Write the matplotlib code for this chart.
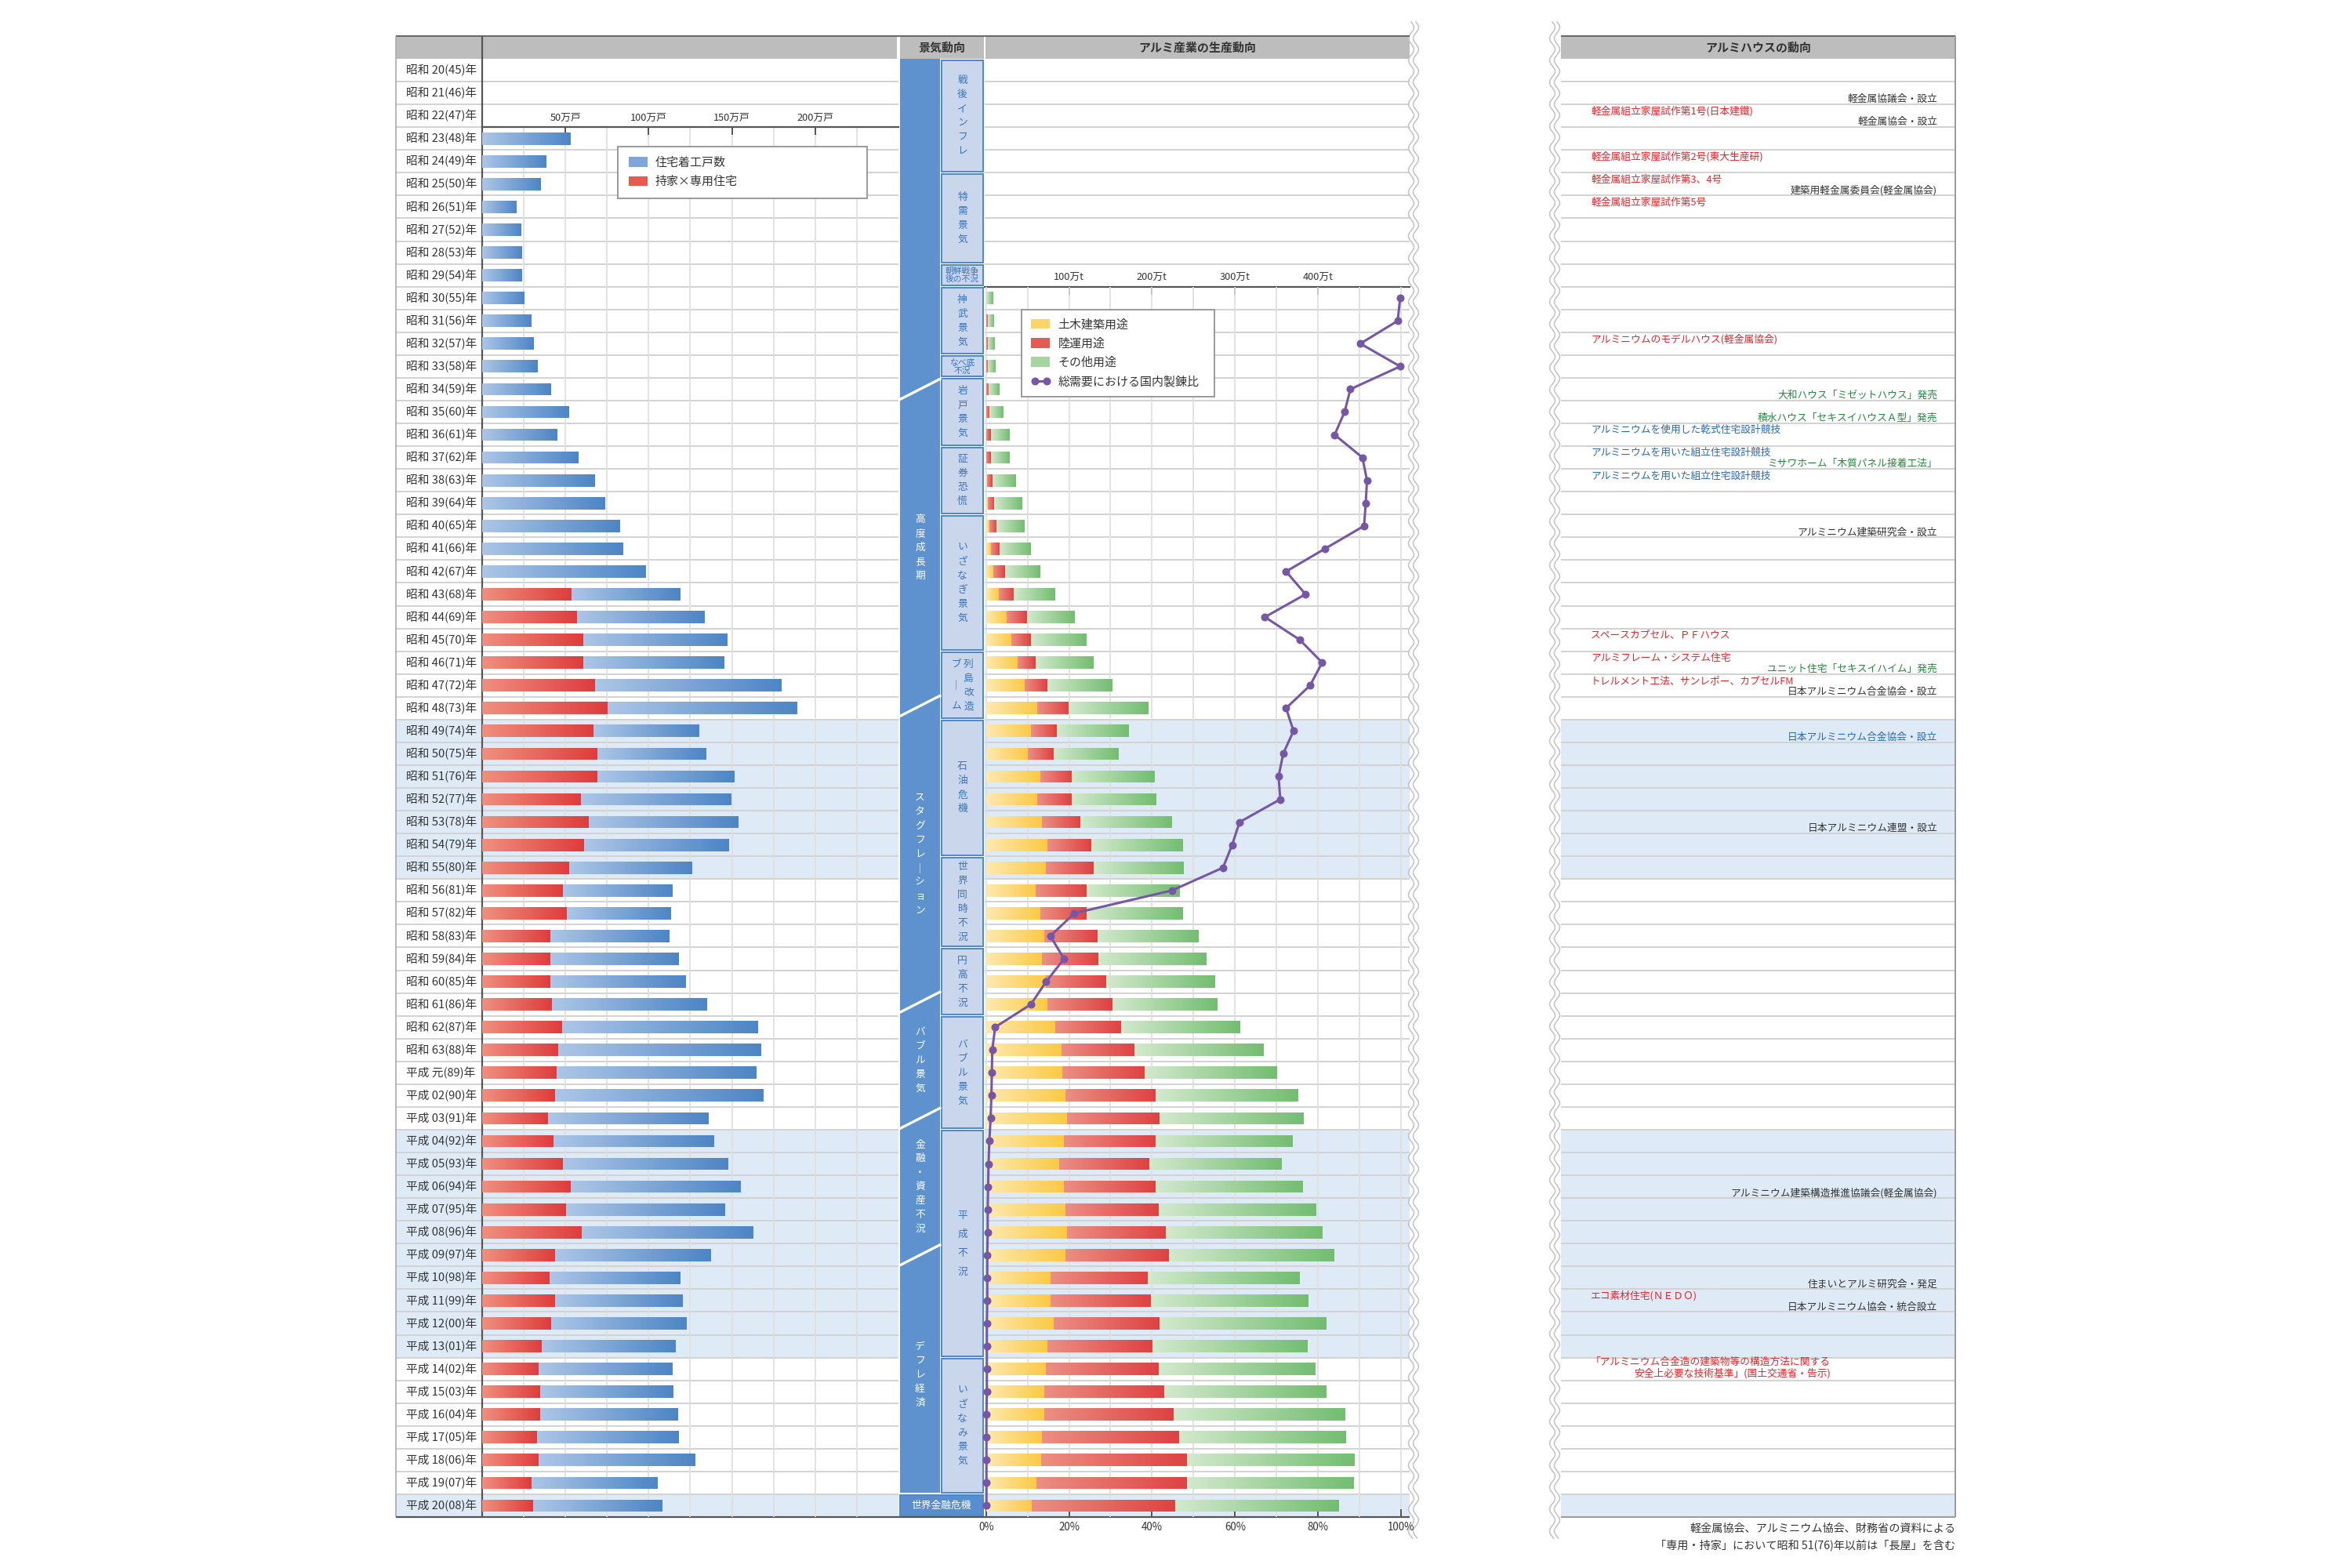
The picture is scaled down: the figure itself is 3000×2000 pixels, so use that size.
"""Aluminium house timeline 1945-2008: housing starts, business cycle, aluminium demand."""

import numpy as np
import matplotlib
matplotlib.use("Agg")
import matplotlib.pyplot as plt
from matplotlib.colors import LinearSegmentedColormap
from matplotlib.lines import Line2D
from matplotlib.patches import Patch, Rectangle

plt.rcParams["font.family"] = ["Noto Sans CJK JP", "DejaVu Sans"]

# ---- data ---------------------------------------------------------------
SHOWA = list(range(20, 64))
HEISEI = list(range(1, 21))
ROW_LABELS = ([f"昭和 {n}({(1925 + n) % 100:02d})年" for n in SHOWA]
              + [f"平成 {'元' if n == 1 else f'{n:02d}'}({(1988 + n) % 100:02d})年" for n in HEISEI])

# housing starts (万戸), first value is 昭和23
HOUSING_START_ROW = 3
HOUSING_TOTAL = [53.0, 38.5, 35.0, 20.5, 23.5, 24.0, 24.0,
                 25.0, 29.5, 31.0, 33.0, 41.0, 52.0, 45.0, 57.5, 67.4, 73.7,
                 82.7, 84.7, 98.3, 118.9, 133.4, 147.1, 145.2, 179.2, 189.1, 130.5,
                 134.5, 151.3, 149.6, 153.6, 148.1, 125.8, 114.1, 113.3, 112.4, 117.8,
                 122.0, 135.0, 165.6, 167.4, 164.7, 169.0, 136.0, 139.5, 147.6, 154.8,
                 145.8, 162.9, 137.6, 118.7, 120.5, 122.3, 116.0, 114.2, 115.0, 117.8,
                 117.8, 127.7, 105.2, 108.0]
# 持家×専用住宅 (万戸), first value is 昭和43
OWNER_START_ROW = 23
HOUSING_OWNER = [53.8, 57.1, 60.7, 60.7, 67.6, 75.2, 67.0,
                 69.3, 69.3, 59.2, 64.1, 61.1, 52.3, 48.5, 51.0, 41.0, 41.0,
                 41.0, 42.0, 48.0, 45.7, 44.8, 44.0, 39.5, 43.0, 48.5, 53.0,
                 50.3, 60.0, 44.0, 40.4, 44.0, 41.3, 35.9, 34.0, 35.0, 35.0,
                 33.0, 34.0, 29.5, 30.4]

# aluminium demand shares (%), first value is 昭和30
ALU_START_ROW = 10
ALU_CIVIL = [0, 0, 0, 0, 0, 0, 0, 0, 0.2, 0.4,
             0.8, 1.1, 1.8, 3.0, 5.0, 6.1, 7.6, 9.4, 12.3, 10.8,
             10.1, 13.0, 12.3, 13.4, 14.8, 14.5, 11.9, 13.0, 14.1, 13.4,
             14.5, 14.8, 16.6, 18.1, 18.4, 19.2, 19.5, 18.8, 17.7, 18.8,
             19.2, 19.5, 19.2, 15.5, 15.5, 16.3, 14.8, 14.5, 14.1, 14.1,
             13.4, 13.3, 12.2, 11.0]
ALU_TRANSPORT = [0, 0.4, 0.4, 0.5, 0.6, 0.9, 1.1, 1.1, 1.3, 1.6,
                 1.8, 2.2, 2.7, 3.6, 4.8, 4.7, 4.3, 5.4, 7.6, 6.2,
                 6.2, 7.6, 8.3, 9.4, 10.5, 11.5, 12.3, 11.3, 12.7, 13.7,
                 14.4, 15.6, 15.9, 17.7, 19.9, 21.7, 22.4, 22.1, 21.7, 22.1,
                 22.4, 23.9, 24.9, 23.5, 24.3, 25.6, 25.3, 27.1, 28.9, 31.1,
                 33.2, 35.1, 36.2, 34.5]
ALU_OTHER = [1.7, 1.4, 1.6, 1.8, 2.5, 3.3, 4.4, 4.5, 5.6, 6.7,
             6.8, 7.5, 8.5, 10.0, 11.5, 13.4, 13.8, 15.6, 19.1, 17.3,
             15.5, 19.9, 20.3, 22.0, 22.1, 21.7, 22.4, 23.1, 24.2, 26.0,
             26.1, 25.3, 28.6, 31.1, 31.8, 34.3, 34.7, 32.9, 31.8, 35.4,
             37.9, 37.6, 39.8, 36.6, 37.9, 40.2, 37.3, 37.6, 39.1, 41.2,
             40.2, 40.4, 40.2, 39.4]
# 総需要における国内製錬比 (%)
ALU_SMELT = [99.8, 99.2, 90.2, 99.8, 87.8, 86.4, 84.0, 90.7, 91.8, 91.5,
             91.1, 81.7, 72.3, 77.0, 67.2, 75.6, 81.0, 78.1, 72.3, 74.1,
             71.6, 70.5, 70.9, 61.1, 59.3, 57.1, 44.8, 21.3, 15.5, 18.8,
             14.5, 10.8, 2.2, 1.5, 1.4, 1.3, 1.1, 0.8, 0.6, 0.5,
             0.4, 0.4, 0.3, 0.3, 0.3, 0.2, 0.2, 0.2, 0.2, 0.1,
             0.1, 0.1, 0.1, 0.1]

HOUSING_TICKS = [50, 100, 150, 200]
HOUSING_GRID = [25, 75, 125, 175, 225]
PCT_TICKS = [0, 20, 40, 60, 80, 100]
PCT_GRID = [10, 30, 50, 70, 90]
TON_TICKS = [100, 200, 300, 400]

SHADE_ROWS = [(29, 35), (47, 56), (63, 63)]

KEIKI_OUTER = [("", 0, 14.5), ("高度成長期", 14.5, 28.4), ("スタグフレーション", 28.4, 41.4),
               ("バブル景気", 41.4, 46.5), ("金融・資産不況", 46.5, 52.5), ("デフレ経済", 52.5, 63)]
KEIKI_INNER = [("戦後インフレ", 0, 4), ("特需景気", 5, 8), ("朝鮮戦争\n後の不況", 9, 9),
               ("神武景気", 10, 12), ("なべ底\n不況", 13, 13), ("岩戸景気", 14, 16),
               ("証券恐慌", 17, 19), ("いざなぎ景気", 20, 25), ("列島改造|ブーム", 26, 28),
               ("石油危機", 29, 34), ("世界同時不況", 35, 38), ("円高不況", 39, 41),
               ("バブル景気", 42, 46), ("平成不況", 47, 56), ("いざなみ景気", 57, 62)]
CRISIS_LABEL, CRISIS_ROW = "世界金融危機", 63

HOUSE_EVENTS = [
    (1, "right", "black", "軽金属協議会・設立"),
    (2, "left", "red", "軽金属組立家屋試作第1号(日本建鐵)"),
    (2, "right", "black", "軽金属協会・設立"),
    (4, "left", "red", "軽金属組立家屋試作第2号(東大生産研)"),
    (5, "left", "red", "軽金属組立家屋試作第3、4号"),
    (5, "right", "black", "建築用軽金属委員会(軽金属協会)"),
    (6, "left", "red", "軽金属組立家屋試作第5号"),
    (12, "left", "red", "アルミニウムのモデルハウス(軽金属協会)"),
    (14, "right", "green", "大和ハウス「ミゼットハウス」発売"),
    (15, "right", "green", "積水ハウス「セキスイハウスＡ型」発売"),
    (16, "left", "blue", "アルミニウムを使用した乾式住宅設計競技"),
    (17, "left", "blue", "アルミニウムを用いた組立住宅設計競技"),
    (17, "right", "green", "ミサワホーム「木質パネル接着工法」"),
    (18, "left", "blue", "アルミニウムを用いた組立住宅設計競技"),
    (20, "right", "black", "アルミニウム建築研究会・設立"),
    (25, "left", "red", "スペースカプセル、ＰＦハウス"),
    (26, "left", "red", "アルミフレーム・システム住宅"),
    (26, "right", "green", "ユニット住宅「セキスイハイム」発売"),
    (27, "left", "red", "トレルメント工法、サンレポー、カプセルFM"),
    (27, "right", "black", "日本アルミニウム合金協会・設立"),
    (29, "right", "blue", "日本アルミニウム合金協会・設立"),
    (33, "right", "black", "日本アルミニウム連盟・設立"),
    (49, "right", "black", "アルミニウム建築構造推進協議会(軽金属協会)"),
    (53, "right", "black", "住まいとアルミ研究会・発足"),
    (54, "left", "red", "エコ素材住宅(ＮＥＤＯ)"),
    (54, "right", "black", "日本アルミニウム協会・統合設立"),
    (57, "left", "red", "「アルミニウム合金造の建築物等の構造方法に関する\n安全上必要な技術基準」(国土交通省・告示)"),
]
EVENT_COLORS = {"red": "#e4262b", "blue": "#2a69b4", "green": "#1f8a3c", "black": "#333333"}

NOTES = ["軽金属協会、アルミニウム協会、財務省の資料による",
         "「専用・持家」において昭和 51(76)年以前は「長屋」を含む"]

# ---- layout (pixels of the 3000x2000 canvas) ----------------------------
W, H, DPI = 3000, 2000, 200
HEAD_TOP, ROW_TOP, ROW_BOT = 46, 75, 1935
N_ROWS = len(ROW_LABELS)
ROW_H = (ROW_BOT - ROW_TOP) / N_ROWS
LAB = (505, 615)
HOUS = (615, 1146)
KEIKI = (1148, 1255)
ALU = (1256, 1798)
RIGHT = (1991, 2494)
BAR_H = 0.54

SHADE = "#deebf7"
ROWLINE = "#d2d2d2"
HEAD_GRAY = "#bdbdbd"
TXT = "#333333"
OUTER_BLUE = "#5e92ce"
INNER_FILL = "#c9d6ec"
INNER_EDGE = "#4f88c9"
INNER_TXT = "#3a74bb"
GRAD = np.linspace(0, 1, 256)[None, :]


def ry(r):
    return ROW_TOP + r * ROW_H


def fig_rect(x0, y0, x1, y1):
    return [x0 / W, 1 - y1 / H, (x1 - x0) / W, (y1 - y0) / H]


def grad_bar(ax, y, left, width, c0, c1):
    bar = ax.barh(y, width, left=left, height=BAR_H, color=c1, linewidth=0, zorder=3)[0]
    cmap = LinearSegmentedColormap.from_list("g", [c0, c1])
    im = ax.imshow(GRAD, cmap=cmap, aspect="auto", interpolation="bilinear",
                   extent=(left, left + width, y + BAR_H / 2, y - BAR_H / 2), zorder=3.1)
    im.set_clip_path(bar)


def vtext(ax, x, yc, s, step, **kw):
    n = len(s)
    for i, ch in enumerate(s):
        ch = "｜" if ch == "ー" else ch
        ax.text(x, yc + (i - (n - 1) / 2) * step, ch, ha="center", va="center", **kw)


fig = plt.figure(figsize=(W / DPI, H / DPI), dpi=DPI)
bg = fig.add_axes([0, 0, 1, 1], zorder=0)
bg.set_xlim(0, W)
bg.set_ylim(H, 0)
bg.axis("off")

# shaded periods
for a, b in SHADE_ROWS:
    for x0, x1 in (LAB, HOUS, ALU, RIGHT):
        bg.add_patch(Rectangle((x0, ry(a)), x1 - x0, ry(b + 1) - ry(a),
                               fc=SHADE, ec="none", zorder=0.5))

# row separators
row_edges = [ry(r) for r in range(1, N_ROWS)]
for x0, x1 in (LAB, HOUS, ALU, RIGHT):
    bg.hlines(row_edges, x0, x1, color=ROWLINE, lw=0.7, zorder=1)

# headers
for x0, x1, title in ((LAB[0], LAB[1] - 1, ""), (HOUS[0] + 1, HOUS[1] - 2, ""),
                      (KEIKI[0], KEIKI[1], "景気動向"), (ALU[0] + 1, ALU[1], "アルミ産業の生産動向"),
                      (RIGHT[0], RIGHT[1], "アルミハウスの動向")):
    bg.add_patch(Rectangle((x0, HEAD_TOP), x1 - x0, ROW_TOP - HEAD_TOP, fc=HEAD_GRAY, ec="none", zorder=2))
    if title:
        bg.text((x0 + x1) / 2, (HEAD_TOP + ROW_TOP) / 2, title, ha="center", va="center",
                fontsize=5.4, fontweight="bold", color=TXT, zorder=3)
bg.hlines(HEAD_TOP, LAB[0], ALU[1], color="#666666", lw=0.7, zorder=3)
bg.hlines(HEAD_TOP, RIGHT[0], RIGHT[1], color="#666666", lw=0.7, zorder=3)

# frame lines
bg.vlines(LAB[0], HEAD_TOP, ROW_BOT, color="#aaaaaa", lw=0.6, zorder=3)
bg.vlines(LAB[1], HEAD_TOP, ROW_BOT, color="#555555", lw=0.8, zorder=3)
bg.hlines(ROW_BOT, LAB[0], ALU[1], color="#555555", lw=0.8, zorder=3)
bg.vlines(RIGHT[1], HEAD_TOP, ROW_BOT, color="#999999", lw=0.7, zorder=3)
bg.hlines(ROW_BOT, RIGHT[0], RIGHT[1], color="#999999", lw=0.7, zorder=3)

# row labels
for i, lab in enumerate(ROW_LABELS):
    bg.text(LAB[0] + 13, ry(i + 0.5), lab, ha="left", va="center", fontsize=5.3, color=TXT, zorder=3)

# business-cycle column
ox0, ox1 = KEIKI[0], KEIKI[0] + 51
ix0, ix1 = ox1 + 2, KEIKI[1] - 1
bg.add_patch(Rectangle((ox0, ROW_TOP), ox1 - ox0, ry(CRISIS_ROW) - 1.5 - ROW_TOP,
                       fc=OUTER_BLUE, ec="none", zorder=2))
for label, a, b in KEIKI_OUTER:
    if a > 0:
        yc = ry(a)
        bg.plot([ox0, ox1], [yc + 13, yc - 13], color="white", lw=1.2, zorder=3)
    if label:
        vtext(bg, (ox0 + ox1) / 2, ry((a + b) / 2), label, 18, fontsize=4.6, color="white", zorder=4)
for label, a, b in KEIKI_INNER:
    y0, y1 = ry(a) + 1.5, ry(b + 1) - 1.5
    bg.add_patch(Rectangle((ix0, y0), ix1 - ix0, y1 - y0, fc=INNER_FILL, ec=INNER_EDGE, lw=0.7, zorder=2))
    xc, yc = (ix0 + ix1) / 2, (y0 + y1) / 2
    if "\n" in label:
        bg.text(xc, yc, label, ha="center", va="center", fontsize=3.9, linespacing=0.95,
                color=INNER_TXT, zorder=4)
    elif "|" in label:
        right_col, left_col = label.split("|")
        vtext(bg, xc + 8, yc, right_col, 18, fontsize=4.6, color=INNER_TXT, zorder=4)
        vtext(bg, xc - 8, yc, left_col, 27, fontsize=4.6, color=INNER_TXT, zorder=4)
    else:
        step = 24 if b - a >= 9 else 18
        vtext(bg, xc, yc, label, step, fontsize=4.6, color=INNER_TXT, zorder=4)
y0, y1 = ry(CRISIS_ROW) + 1.5, ROW_BOT - 1
bg.add_patch(Rectangle((ox0, y0), ix1 - ox0, y1 - y0, fc="#5a8dcd", ec=INNER_EDGE, lw=0.7, zorder=2))
bg.text((ox0 + ix1) / 2, (y0 + y1) / 2, CRISIS_LABEL, ha="center", va="center",
        fontsize=4.6, color="white", zorder=4)

# wavy break lines
wy = np.linspace(28, 1962, 900)
for x0 in (1800, 1806, 1980, 1986):
    bg.plot(x0 + 3.5 * np.sin(2 * np.pi * wy / 28), wy, color="#c6c6c6", lw=0.6, zorder=2)

# aluminium-house events
for row, side, col, text in HOUSE_EVENTS:
    if side == "left":
        bg.text(RIGHT[0] + 38, ry(row + (0.45 if "\n" in text else 0.3)), text, ha="left", va="center",
                fontsize=4.6, color=EVENT_COLORS[col], linespacing=1.15, multialignment="right", zorder=3)
    else:
        bg.text(RIGHT[1] - 23, ry(row + 0.78), text, ha="right", va="center",
                fontsize=4.6, color=EVENT_COLORS[col], zorder=3)

for k, note in enumerate(NOTES):
    bg.text(RIGHT[1], 1950 + 22 * k, note, ha="right", va="center", fontsize=5.1, color=TXT)

# ---- housing starts -----------------------------------------------------
ax_h = fig.add_axes(fig_rect(HOUS[0], ry(HOUSING_START_ROW), HOUS[1], ROW_BOT), zorder=2)
ax_h.set_facecolor("none")
h_xmax = (HOUS[1] - 614.7) / 2.125
for k, total in enumerate(HOUSING_TOTAL):
    row = HOUSING_START_ROW + k
    j = row - OWNER_START_ROW
    owner = HOUSING_OWNER[j] if 0 <= j < len(HOUSING_OWNER) else 0
    if owner:
        grad_bar(ax_h, row + 0.5, 0, owner, "#f0907f", "#de3c3c")
    grad_bar(ax_h, row + 0.5, owner, total - owner, "#adc6e7", "#4d85c5")
ax_h.set_xlim(0, h_xmax)
ax_h.set_ylim(N_ROWS, HOUSING_START_ROW)
ax_h.set_aspect("auto")
ax_h.set_yticks([])
ax_h.xaxis.tick_top()
ax_h.set_xticks(HOUSING_TICKS, labels=[f"{v}万戸" for v in HOUSING_TICKS])
ax_h.set_xticks(HOUSING_GRID, minor=True)
ax_h.tick_params(axis="x", which="major", direction="in", length=3.5, width=0.7, color="#555555",
                 labelsize=4.6, labelcolor=TXT, pad=1.8)
ax_h.tick_params(axis="x", which="minor", length=0)
ax_h.grid(axis="x", which="both", color="#dedede", lw=0.6)
ax_h.set_axisbelow(True)
for side in ("left", "right", "bottom"):
    ax_h.spines[side].set_visible(False)
ax_h.spines["top"].set_color("#555555")
ax_h.spines["top"].set_linewidth(0.8)

ax_h.legend(handles=[Patch(fc="#7fa6d8", ec="none"), Patch(fc="#e65a52", ec="none")],
            labels=["住宅着工戸数", "持家×専用住宅"], loc="upper left", mode="expand",
            bbox_to_anchor=fig_rect(788, 187, 1106, 256), bbox_transform=fig.transFigure,
            fontsize=5.4, frameon=True, fancybox=False, edgecolor="#9a9a9a", framealpha=1,
            borderpad=0.9, labelspacing=0.65, handlelength=1.6, handleheight=0.9,
            handletextpad=0.7, borderaxespad=0, labelcolor=TXT).get_frame().set_linewidth(0.7)

# ---- aluminium demand ---------------------------------------------------
ax_a = fig.add_axes(fig_rect(ALU[0], ry(ALU_START_ROW), ALU[1], ROW_BOT), zorder=2)
ax_a.set_facecolor("none")
for k in range(len(ALU_OTHER)):
    y = ALU_START_ROW + k + 0.5
    c, t, o = ALU_CIVIL[k], ALU_TRANSPORT[k], ALU_OTHER[k]
    if c:
        grad_bar(ax_a, y, 0, c, "#fee9b0", "#fbc943")
    if t:
        grad_bar(ax_a, y, c, t, "#ec8f84", "#de4242")
    grad_bar(ax_a, y, c + t, o, "#d3e9cd", "#73bd71")
smelt_rows = [ALU_START_ROW + k + 0.5 for k in range(len(ALU_SMELT))]
ax_a.plot(ALU_SMELT, smelt_rows, color="#7657a6", lw=1.1, marker="o", ms=2.6, zorder=6, clip_on=False)
ax_a.set_xlim((ALU[0] - 1257.7) / 5.293, (ALU[1] - 1257.7) / 5.293)
ax_a.set_ylim(N_ROWS, ALU_START_ROW)
ax_a.set_aspect("auto")
ax_a.set_yticks([])
ax_a.set_xticks(PCT_TICKS, labels=[f"{p}%" for p in PCT_TICKS])
ax_a.set_xticks(PCT_GRID, minor=True)
ax_a.tick_params(axis="x", which="major", direction="in", length=3.5, width=0.7, color="#555555",
                 labelsize=4.8, labelcolor=TXT, pad=2)
ax_a.tick_params(axis="x", which="minor", length=0)
ax_a.grid(axis="x", which="both", color="#dedede", lw=0.6)
ax_a.set_axisbelow(True)
for side in ("left", "right", "bottom", "top"):
    ax_a.spines[side].set_visible(False)
sec = ax_a.secondary_xaxis("top", functions=(lambda p: p * 5, lambda t: t / 5))
sec.set_xticks(TON_TICKS, labels=[f"{t}万t" for t in TON_TICKS])
sec.tick_params(axis="x", direction="in", length=3.5, width=0.7, color="#555555",
                labelsize=4.6, labelcolor=TXT, pad=1.8)
sec.spines["top"].set_color("#555555")
sec.spines["top"].set_linewidth(0.8)

ax_a.legend(handles=[Patch(fc="#fcd56a", ec="none"), Patch(fc="#e45b52", ec="none"),
                     Patch(fc="#a6d59f", ec="none"),
                     Line2D([0], [0], color="#7657a6", lw=1.1, marker="o", ms=2.6, markevery=[0])],
            labels=["土木建築用途", "陸運用途", "その他用途", "総需要における国内製錬比"],
            loc="upper left", mode="expand", numpoints=2,
            bbox_to_anchor=fig_rect(1303, 395, 1549, 514), bbox_transform=fig.transFigure,
            fontsize=5.4, frameon=True, fancybox=False, edgecolor="#9a9a9a", framealpha=1,
            borderpad=0.8, labelspacing=0.65, handlelength=1.6, handleheight=0.9,
            handletextpad=0.7, borderaxespad=0, labelcolor=TXT).get_frame().set_linewidth(0.7)

fig.savefig("out.png", dpi=DPI, facecolor="white")
